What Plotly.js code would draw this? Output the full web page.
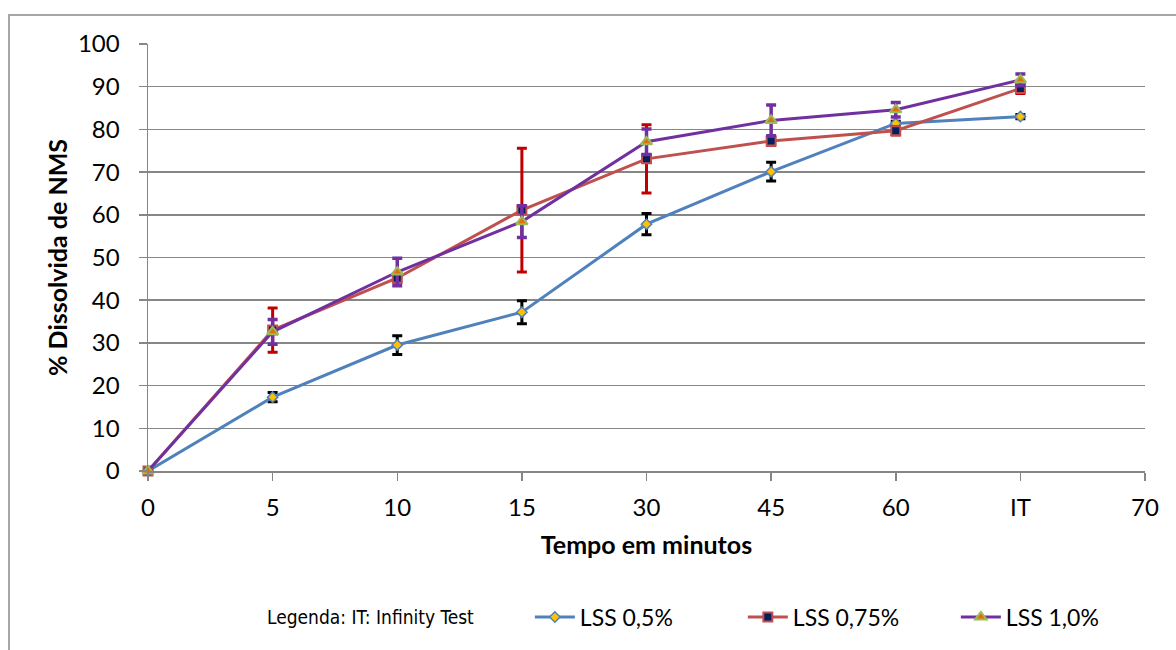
<!DOCTYPE html>
<html>
<head>
<meta charset="utf-8">
<script src="https://cdn.plot.ly/plotly-3.0.1.min.js"></script>
<style>
html,body{margin:0;padding:0;background:#fff;}
#chart{width:1176px;height:650px;}
</style>
</head>
<body>
<div id="chart"></div>
<script>
var tickLabels = ["0","5","10","15","30","45","60","IT","70"];
var xPos = [0,1,2,3,4,5,6,7];
var lss05 = [0, 17.3, 29.5, 37.2, 57.8, 70.1, 81.4, 83.0];
var lss05Err = [0, 1.1, 2.2, 2.7, 2.5, 2.2, 0.5, 0.5];
var lss075 = [0, 33.0, 45.2, 61.1, 73.1, 77.3, 79.7, 89.6];
var lss075Err = [0, 5.2, 1.0, 14.5, 8.0, 1.0, 1.0, 1.2];
var lss10 = [0, 32.6, 46.6, 58.4, 77.1, 82.1, 84.6, 91.6];
var lss10Err = [0, 2.9, 3.2, 3.7, 3.0, 3.6, 1.7, 1.4];

var FONT = "Lato, 'Open Sans', sans-serif";

var traces = [
  {
    x: xPos, y: lss05, name: "LSS 0,5%", type: "scatter", mode: "lines+markers",
    line: {color: "#4F81BD", width: 3},
    marker: {symbol: "diamond", size: 8, color: "#FFC000", line: {color: "#4F81BD", width: 1.5}},
    error_y: {type: "data", array: lss05Err, visible: true, color: "#000000", thickness: 3, width: 5},
    cliponaxis: false
  },
  {
    x: xPos, y: lss075, name: "LSS 0,75%", type: "scatter", mode: "lines+markers",
    line: {color: "#C0504D", width: 3},
    marker: {symbol: "square", size: 9, color: "#002060", line: {color: "#C0504D", width: 2}},
    error_y: {type: "data", array: lss075Err, visible: true, color: "#C00000", thickness: 3, width: 5},
    cliponaxis: false
  },
  {
    x: xPos, y: lss10, name: "LSS 1,0%", type: "scatter", mode: "lines+markers",
    line: {color: "#7030A0", width: 3},
    marker: {symbol: "triangle-up", size: 10, color: "#E46C0A", line: {color: "#9BBB59", width: 2}},
    error_y: {type: "data", array: lss10Err, visible: true, color: "#7030A0", thickness: 3.5, width: 5},
    cliponaxis: false
  }
];

var layout = {
  width: 1176, height: 650,
  margin: {l: 148, r: 31, t: 44, b: 179, autoexpand: false},
  paper_bgcolor: "#ffffff", plot_bgcolor: "#ffffff",
  font: {family: FONT, size: 22, color: "#000000"},
  showlegend: true,
  legend: {
    orientation: "h", x: 0.383, xanchor: "left", y: -0.342, yanchor: "middle",
    font: {family: FONT, size: 23, color: "#000"}, itemwidth: 40,
    traceorder: "normal", entrywidth: 158, entrywidthmode: "pixels",
    bgcolor: "rgba(0,0,0,0)"
  },
  xaxis: {
    range: [0, 8], tickmode: "array", tickvals: [0,1,2,3,4,5,6,7,8], ticktext: tickLabels,
    showgrid: false, zeroline: false, showline: true, linecolor: "#868686", linewidth: 1.5,
    ticks: "outside", ticklen: 8, tickcolor: "#868686", tickwidth: 1.5,
    tickfont: {family: FONT, size: 24, color: "#000"}, ticklabelstandoff: 7,
    title: {text: "Tempo em minutos", font: {family: FONT, size: 25, color: "#000", weight: "bold"}, standoff: 16}
  },
  yaxis: {
    range: [0, 100], tickmode: "array", tickvals: [0,10,20,30,40,50,60,70,80,90,100],
    showgrid: true, gridcolor: "#868686", gridwidth: 1.5,
    zeroline: false, showline: true, linecolor: "#868686", linewidth: 1.5,
    ticks: "outside", ticklen: 8, tickcolor: "#868686", tickwidth: 1.5,
    tickfont: {family: FONT, size: 24, color: "#000"}, ticklabelstandoff: 14,
    title: {text: "% Dissolvida de NMS", font: {family: FONT, size: 25, color: "#000", weight: "bold"}, standoff: 3}
  },
  annotations: [
    {text: "Legenda: IT: Infinity Test", xref: "paper", yref: "paper", x: 0.1174, y: -0.342,
     xanchor: "left", yanchor: "middle", showarrow: false,
     font: {family: "'Liberation Sans Narrow', 'DejaVu Sans Condensed', sans-serif", size: 19, color: "#000"}}
  ],
  shapes: [
    {type: "rect", xref: "paper", yref: "paper", x0: -0.1394, x1: 1.2, y0: -0.6, y1: 1.0679,
     line: {color: "#A6A6A6", width: 2}, fillcolor: "rgba(0,0,0,0)", layer: "below"}
  ]
};

Plotly.newPlot("chart", traces, layout, {displayModeBar: false, staticPlot: true});
</script>
</body>
</html>
